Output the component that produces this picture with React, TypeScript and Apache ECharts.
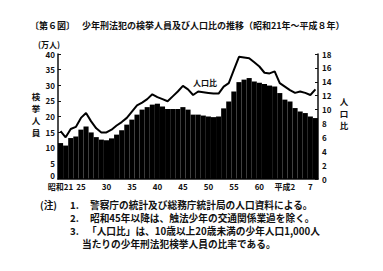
import React, { useEffect, useRef } from "react";
import * as echarts from "echarts";

const years: string[] = [
  "昭和21","22","23","24","25","26","27","28","29","30",
  "31","32","33","34","35","36","37","38","39","40",
  "41","42","43","44","45","46","47","48","49","50",
  "51","52","53","54","55","56","57","58","59","60",
  "61","62","63","平成元","平成2","3","4","5","6","7","8",
];
const shownLabelIdx: number[] = [0, 4, 9, 14, 19, 24, 29, 34, 39, 44, 49];

// 検挙人員（万人）
const arrests: number[] = [
  11.5, 10.7, 13.1, 13.6, 15.8, 16.8, 14.9, 13.4, 12.6, 12.4,
  13.0, 14.2, 15.6, 17.4, 19.0, 20.6, 22.2, 23.0, 23.8, 24.1,
  23.2, 22.4, 22.4, 22.4, 23.0, 22.2, 20.6, 20.6, 20.3, 20.0,
  19.8, 20.0, 22.6, 24.8, 28.0, 31.0, 31.8, 32.3, 31.2, 30.8,
  30.4, 29.9, 29.6, 27.5, 25.4, 24.8, 22.7, 21.6, 21.1, 20.0, 19.5,
];
// 人口比
const ratio: number[] = [
  6.9, 6.0, 7.2, 7.5, 8.8, 9.5, 8.3, 7.3, 6.7, 6.7,
  7.1, 7.7, 8.2, 8.8, 9.7, 10.6, 11.0, 11.5, 12.2, 11.8,
  11.5, 11.2, 11.9, 12.6, 13.4, 12.9, 12.1, 12.6, 12.5, 12.4,
  12.3, 12.3, 13.3, 13.8, 15.7, 17.6, 17.5, 17.4, 16.8, 16.2,
  15.3, 15.2, 15.5, 13.8, 13.3, 12.8, 12.4, 12.6, 12.4, 12.1, 12.9,
];

const leftAxisName: string[] = ["検", "挙", "人", "員"];
const rightAxisName: string[] = ["人", "口", "比"];

const notes: string[] = [
  "警察庁の統計及び総務庁統計局の人口資料による。",
  "昭和45年以降は、触法少年の交通関係業過を除く。",
  "「人口比」は、10歳以上20歳未満の少年人口1,000人",
  "当たりの少年刑法犯検挙人員の比率である。",
];

const FONT = '"Noto Sans CJK JP", "Noto Sans", sans-serif';
const INK = "#111";

export default function App() {
  const ref = useRef<HTMLDivElement>(null);
  useEffect(() => {
    if (!ref.current) return;
    const chart = echarts.init(ref.current, null, { renderer: "svg" });
    const t = (x: number, y: number, text: string, size: number, extra: any = {}) => ({
      type: "text",
      x,
      y,
      style: {
        text,
        fontSize: size,
        fontWeight: "bold",
        fontFamily: FONT,
        fill: INK,
        textVerticalAlign: "middle",
        ...extra,
      },
    });
    const vert = (x: number, y0: number, step: number, chars: string[]) =>
      chars.map((c, i) => t(x, y0 + i * step, c, 8.5, { textAlign: "center" }));
    chart.setOption({
      animation: false,
      backgroundColor: "#fff",
      textStyle: { fontFamily: FONT },
      grid: { left: 58, right: 65, top: 54, bottom: 92, containLabel: false },
      xAxis: {
        type: "category",
        data: years,
        boundaryGap: true,
        axisLine: { show: true, lineStyle: { color: INK, width: 1.5 } },
        axisTick: { show: false },
        axisLabel: {
          interval: (i: number) => shownLabelIdx.includes(i),
          fontSize: 8,
          fontWeight: "bold",
          color: INK,
          margin: 3,
        },
      },
      yAxis: [
        {
          type: "value",
          min: 0,
          max: 40,
          interval: 5,
          axisLine: { show: true, lineStyle: { color: INK, width: 1.5 } },
          axisTick: { show: true, inside: true, length: 3, lineStyle: { color: INK } },
          splitLine: { show: false },
          axisLabel: {
            fontSize: 8,
            fontWeight: "bold",
            color: INK,
            margin: 3,
            showMinLabel: false,
          },
        },
        {
          type: "value",
          min: 0,
          max: 18,
          interval: 2,
          position: "right",
          axisLine: { show: true, lineStyle: { color: INK, width: 1.5 } },
          axisTick: { show: true, inside: true, length: 3, lineStyle: { color: INK } },
          splitLine: { show: false },
          axisLabel: { fontSize: 8, fontWeight: "bold", color: INK, margin: 4 },
        },
      ],
      series: [
        {
          type: "bar",
          data: arrests,
          yAxisIndex: 0,
          barCategoryGap: "0%",
          itemStyle: { color: "#000" },
        },
        {
          type: "line",
          data: ratio,
          yAxisIndex: 1,
          symbol: "none",
          lineStyle: { color: "#000", width: 2 },
          z: 3,
        },
      ],
      graphic: [
        t(30, 25, "〔第６図〕", 9),
        t(82, 25, "少年刑法犯の検挙人員及び人口比の推移（昭和21年～平成８年）", 9),
        t(38, 44, "(万人)", 8),
        t(55, 175.5, "0", 8, { textAlign: "right" }),
        ...vert(36, 96, 12, leftAxisName),
        ...vert(344, 101, 12, rightAxisName),
        t(193, 82, "人口比", 8),
        t(191, 137, "検挙人員", 8, { fill: "#fff" }),
        t(40, 205, "(注)", 9.7),
        t(70, 205, "1.", 9.7),
        t(90, 205, notes[0], 9.7),
        t(70, 218, "2.", 9.7),
        t(90, 218, notes[1], 9.7),
        t(70, 231, "3.", 9.7),
        t(87, 231, notes[2], 9.7),
        t(82, 244, notes[3], 9.7),
      ],
    });
    return () => chart.dispose();
  }, []);
  return (
    <div
      ref={ref}
      style={{ position: "fixed", left: 0, top: 0, width: 383, height: 271 }}
    />
  );
}
